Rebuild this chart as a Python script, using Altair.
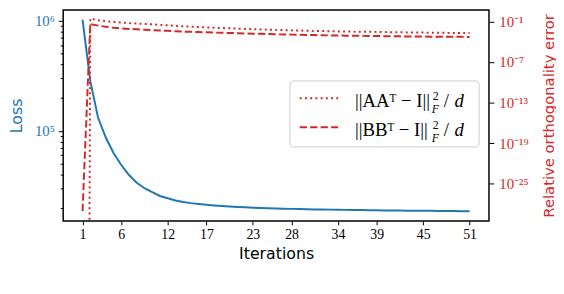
import math
import altair as alt
import pandas as pd

BLUE = "#1f77b4"
RED = "#d62728"
SERIF = "Liberation Serif"
SANS = "DejaVu Sans"

iterations = list(range(1, 52))
loss = [1020000, 282000, 132000, 87100, 63100, 49000, 39800, 33900, 30200, 27900,
        25700, 24500, 23400, 22650, 22130, 21730, 21380, 21090, 20840, 20650,
        20460, 20280, 20140, 20000, 19910, 19820, 19720, 19630, 19540, 19500,
        19410, 19360, 19320, 19280, 19230, 19190, 19140, 19100, 19050, 19010,
        18970, 18940, 18920, 18880, 18860, 18840, 18800, 18780, 18750, 18720, 18700]
# ||AA^T - I||_F^2 / d  (first value is exactly 0)
err_aa = [0, 0.268, 0.153, 0.110, 0.0848, 0.0697, 0.0571, 0.0501, 0.0425, 0.0372,
          0.0316, 0.0268, 0.0227, 0.0193, 0.0169, 0.0148, 0.0134, 0.0117, 0.0106, 0.00964,
          0.00873, 0.00791, 0.00717, 0.00671, 0.00608, 0.00569, 0.00533, 0.00483, 0.00452, 0.00423,
          0.00396, 0.00384, 0.00359, 0.00336, 0.00325, 0.00315, 0.00305, 0.00294, 0.00285, 0.00267,
          0.00258, 0.00250, 0.00242, 0.00234, 0.00226, 0.00219, 0.00212, 0.00205, 0.00202, 0.00199, 0.00192]
# ||BB^T - I||_F^2 / d
err_bb = [9.1e-30, 0.0411, 0.0243, 0.0163, 0.0121, 0.00964, 0.00791, 0.00693, 0.00608, 0.00515,
          0.00452, 0.00409, 0.00359, 0.00315, 0.00294, 0.00267, 0.00250, 0.00226, 0.00212, 0.00199,
          0.00186, 0.00168, 0.00157, 0.00148, 0.00138, 0.00125, 0.00121, 0.00113, 0.00106, 0.000993,
          0.000961, 0.000900, 0.000871, 0.000843, 0.000789, 0.000764, 0.000739, 0.000715, 0.000692, 0.000669,
          0.000647, 0.000626, 0.000606, 0.000596, 0.000586, 0.000567, 0.000558, 0.000549, 0.000540, 0.000531, 0.000514]

x_ticks = [1, 6, 12, 17, 23, 28, 34, 39, 45, 51]
loss_ticks = [2e4, 3e4, 4e4, 5e4, 6e4, 7e4, 8e4, 9e4, 1e5,
              2e5, 3e5, 4e5, 5e5, 6e5, 7e5, 8e5, 9e5, 1e6]
err_ticks = [1e-1, 1e-7, 1e-13, 1e-19, 1e-25]
series_names = ["AA", "BB"]
legend_main = ["||AAᵀ − I||", "||BBᵀ − I||"]

W, H = 432, 214

SUP = str.maketrans("0123456789-", "⁰¹²³⁴⁵⁶⁷⁸⁹⁻")


def pow_expr(vals):
    parts = []
    for v in vals:
        e = round(math.log10(v))
        if abs(math.log10(v) - e) < 1e-9:
            parts.append(f"abs(log(datum.value)/LN10 - ({e})) < 0.001 ? '10{str(e).translate(SUP)}'")
    return " : ".join(parts) + " : ''"


major_test = "abs(log(datum.value)/LN10 - round(log(datum.value)/LN10)) < 0.001"

df_loss = pd.DataFrame({"it": iterations, "loss": loss})
rows = []
for name, vals in zip(series_names, [err_aa, err_bb]):
    for i, v in zip(iterations, vals):
        # log axis: non-positive values are clipped to a tiny number (as matplotlib does)
        rows.append({"it": i, "err": v if v > 0 else 1e-300, "series": name})
df_err = pd.DataFrame(rows)

xscale = alt.Scale(domain=[-1.5, 53.5], nice=False, zero=False)
xaxis = alt.Axis(values=x_ticks, grid=False, domain=False, tickColor="black", tickSize=4,
                 tickWidth=1, labelFont=SERIF, labelFontSize=14, labelColor="black",
                 labelPadding=3, title="Iterations", titleFont=SANS, titleFontSize=16,
                 titleFontWeight="normal", titleColor="black", titleBaseline="middle",
                 titleY=33)

loss_line = alt.Chart(df_loss).mark_line(color=BLUE, strokeWidth=2, clip=True).encode(
    x=alt.X("it:Q", scale=xscale, axis=xaxis),
    y=alt.Y("loss:Q",
            scale=alt.Scale(type="log", domain=[10 ** 4.184, 10 ** 6.096], nice=False, zero=False),
            axis=alt.Axis(orient="left", values=loss_ticks, labelExpr=pow_expr(loss_ticks),
                          grid=False, domain=False, tickColor="black", tickWidth=1,
                          tickSize={"condition": {"test": major_test, "value": 5}, "value": 3},
                          labelFont=SERIF, labelFontSize=15, labelColor=BLUE, labelPadding=4,
                          labelOverlap=False, title="Loss", titleFont=SANS, titleFontSize=16,
                          titleFontWeight="normal", titleColor=BLUE, titleAngle=270,
                          titleBaseline="middle", titleAlign="center", titleX=-47, titleY=H / 2)),
)

err_lines = alt.Chart(df_err).mark_line(color=RED, strokeWidth=2, clip=True).encode(
    x=alt.X("it:Q", scale=xscale, axis=xaxis),
    y=alt.Y("err:Q",
            scale=alt.Scale(type="log", domain=[10 ** -30.5, 10 ** 0.7], nice=False, zero=False),
            axis=alt.Axis(orient="right", values=err_ticks, labelExpr=pow_expr(err_ticks),
                          grid=False, domain=False, tickColor="black", tickWidth=1, tickSize=5,
                          labelFont=SERIF, labelFontSize=15, labelColor=RED, labelPadding=5,
                          labelOverlap=False, title="Relative orthogonality error", titleFont=SANS,
                          titleFontSize=15, titleFontWeight="normal", titleColor=RED,
                          titleAngle=270, titleBaseline="middle", titleAlign="center",
                          titleX=60, titleY=H / 2)),
    strokeDash=alt.StrokeDash("series:N", scale=alt.Scale(domain=series_names,
                                                           range=[[2, 3.3], [7.4, 3.2]]), legend=None),
    detail="series:N",
)

one = pd.DataFrame({"a": [0]})
box = alt.Chart(one).mark_rect(fill="white", fillOpacity=0.8, stroke="#cccccc", strokeWidth=1,
                               cornerRadius=4).encode(
    x=alt.value(230), x2=alt.value(422), y=alt.value(72), y2=alt.value(139))


def txt(s, x, y, size, italic=False):
    m = alt.Chart(one).mark_text(align="left", baseline="alphabetic", font=SERIF, fontSize=size,
                                 fontStyle="italic" if italic else "normal", color="black")
    return m.encode(x=alt.value(x), y=alt.value(y), text=alt.value(s))


legend_layers = [box]
for k, (dash, main) in enumerate(zip([[2, 3.3], [7.4, 3.2]], legend_main)):
    yc = 89.5 + k * 29.5
    legend_layers.append(alt.Chart(one).mark_rule(color=RED, strokeWidth=2, strokeDash=dash).encode(
        x=alt.value(240), x2=alt.value(279), y=alt.value(yc)))
    legend_layers.append(txt(main, 296, yc + 9, 19))
    legend_layers.append(txt("2", 375, yc + 2, 12))
    legend_layers.append(txt("F", 374, yc + 15, 12, italic=True))
    legend_layers.append(txt("/", 386, yc + 9, 19))
    legend_layers.append(txt("d", 397, yc + 9, 19, italic=True))

chart = alt.layer(loss_line, err_lines, *legend_layers).resolve_scale(
    y="independent"
).properties(
    width=W, height=H,
    autosize=alt.AutoSizeParams(type="none"),
    padding={"left": 56, "top": 0, "right": 68, "bottom": 60},
).configure_view(stroke="black", strokeWidth=1.5)

chart.save("out.html", embed_options={"renderer": "svg", "actions": False})
